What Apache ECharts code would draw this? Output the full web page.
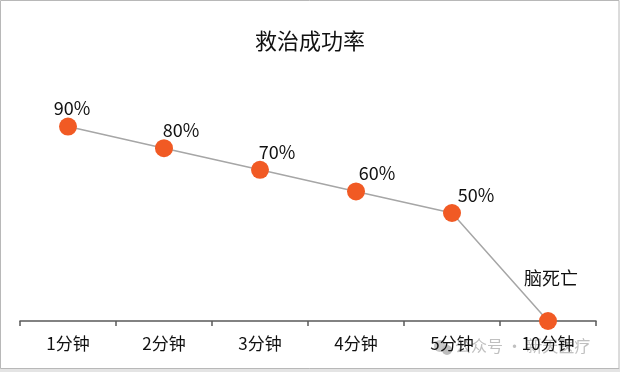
<!DOCTYPE html>
<html>
<head>
<meta charset="utf-8">
<script src="https://cdn.jsdelivr.net/npm/echarts@6/dist/echarts.min.js"></script>
<style>
html,body{margin:0;padding:0;background:#fff;}
#c{width:620px;height:372px;}
</style>
</head>
<body>
<div id="c"></div>
<script>
const categories = ['1分钟', '2分钟', '3分钟', '4分钟', '5分钟', '10分钟'];
const successRate = [90, 80, 70, 60, 50, 0];
const pointLabels = ['90%', '80%', '70%', '60%', '50%', '脑死亡'];
const labelShiftX = [4, 17, 17, 21, 24, 3];
const labelShiftY = [3, 3, 3, 3, 3, -22];

const FONT = '"Noto Sans CJK SC", "Noto Sans", sans-serif';
const chart = echarts.init(document.getElementById('c'), null, {renderer: 'canvas'});

const seriesData = successRate.map((v, i) => ({
  value: v,
  label: {
    formatter: pointLabels[i],
    offset: [labelShiftX[i], labelShiftY[i]]
  }
}));

chart.setOption({
  animation: false,
  backgroundColor: '#ffffff',
  title: {
    text: '救治成功率',
    left: 'center',
    top: 25,
    textStyle: {fontFamily: FONT, fontSize: 22, fontWeight: 'normal', color: '#111'}
  },
  grid: {left: 20, right: 24, top: 105, bottom: 51},
  xAxis: {
    type: 'category',
    data: categories,
    boundaryGap: true,
    axisLine: {lineStyle: {color: '#595959', width: 1.5}},
    axisTick: {show: true, length: 5, lineStyle: {color: '#595959', width: 1.5}},
    axisLabel: {fontFamily: FONT, fontSize: 17, color: '#111', margin: 14}
  },
  yAxis: {
    type: 'value', min: 0, max: 100, show: false,
    splitLine: {show: false}
  },
  series: [{
    type: 'line',
    data: seriesData,
    symbol: 'circle',
    symbolSize: 18,
    lineStyle: {color: '#a6a6a6', width: 1.5},
    itemStyle: {color: '#f15a24'},
    label: {
      show: true,
      position: 'top',
      distance: 3,
      fontFamily: FONT,
      fontSize: 18,
      color: '#111'
    },
    z: 3
  }],
  graphic: [
    {
      type: 'rect', z: 100, silent: true,
      shape: {x: 0, y: 368, width: 620, height: 4},
      style: {fill: '#e4e4e4'}
    },
    {
      type: 'rect', z: 101, silent: true,
      shape: {x: 0.5, y: 0.5, width: 618.5, height: 368},
      style: {fill: 'none', stroke: '#b8b8b8', lineWidth: 1}
    },
    {
      type: 'circle', z: -10, silent: true,
      shape: {cx: 440, cy: 346, r: 6},
      style: {fill: '#c8c8c8'}
    },
    {
      type: 'circle', z: -10, silent: true,
      shape: {cx: 447, cy: 350, r: 5},
      style: {fill: '#bdbdbd'}
    },
    {
      type: 'text', z: -10, silent: true,
      left: 455, top: 338,
      style: {text: '公众号 · 新天医疗', fontFamily: FONT, fontSize: 16, fill: '#c0c0c0'}
    }
  ]
});
</script>
</body>
</html>
